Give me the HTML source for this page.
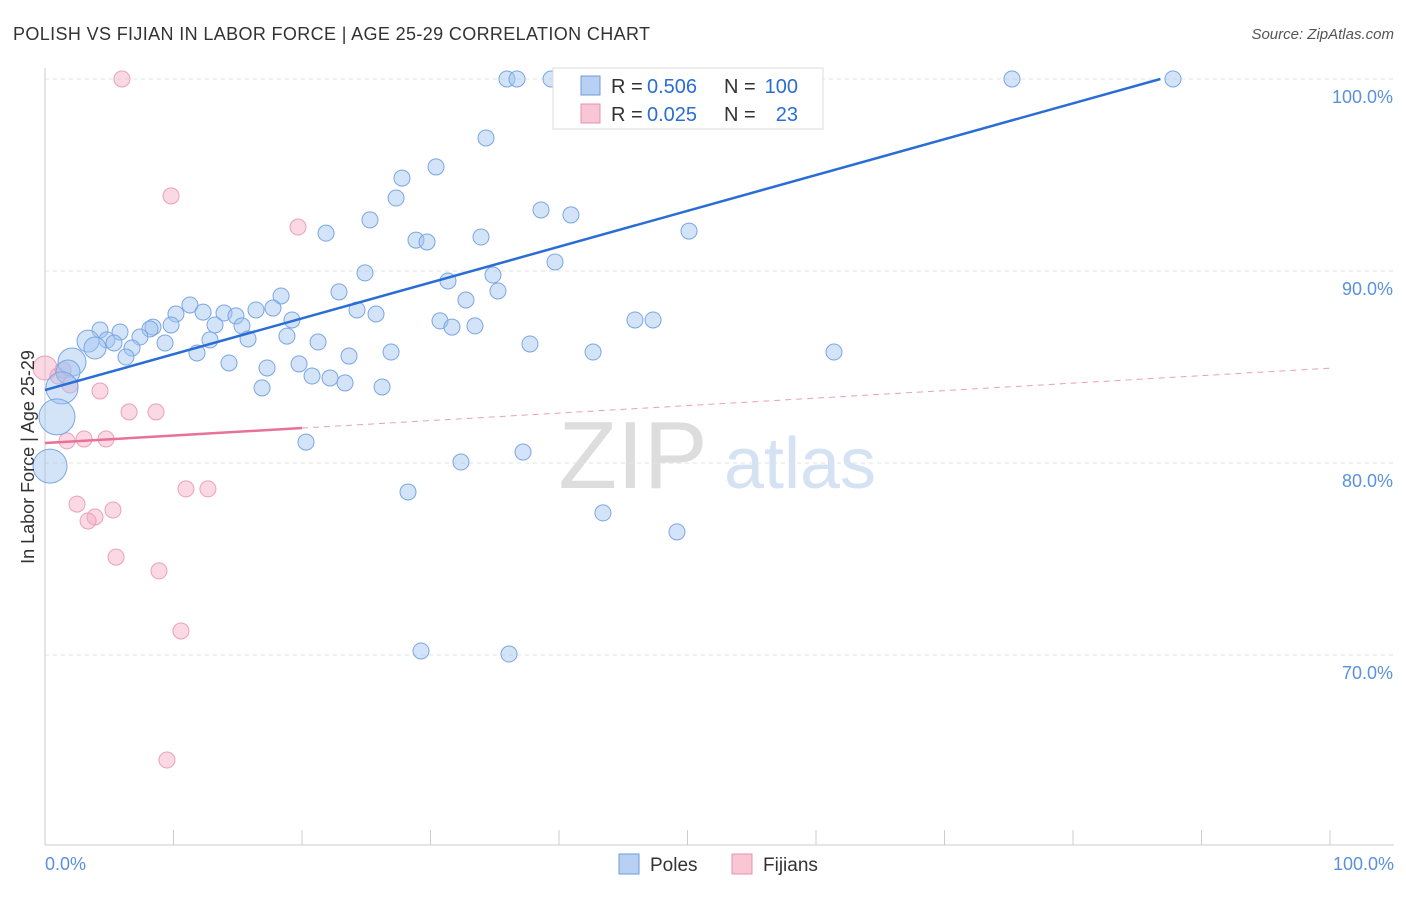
<!DOCTYPE html>
<html><head><meta charset="utf-8"><style>
body{margin:0;background:#fff;font-family:"Liberation Sans",sans-serif;}
svg text{font-family:"Liberation Sans",sans-serif;}
</style></head><body>
<svg id="chart" width="1406" height="892">
<text x="13" y="40" font-size="18" fill="#333" textLength="637">POLISH VS FIJIAN IN LABOR FORCE | AGE 25-29 CORRELATION CHART</text>
<text x="1394" y="39" font-size="15" fill="#555" font-style="italic" text-anchor="end">Source: ZipAtlas.com</text>
<g><text x="633" y="488" font-size="96" fill="#ddd" text-anchor="middle" font-family="Liberation Serif">ZIP</text><text x="800" y="488" font-size="72" fill="#d4e2f4" text-anchor="middle">atlas</text></g>
<g id="grid"></g><g id="axes"></g><g id="marks"></g>
<text transform="translate(34,457) rotate(-90)" font-size="18" fill="#333" text-anchor="middle">In Labor Force | Age 25-29</text>
<g>
<rect x="553" y="68" width="270" height="61" fill="#fff" stroke="#ddd"/>
<rect x="581" y="76" width="19" height="19" fill="#b8d0f4" stroke="#6c9be0"/>
<text x="611" y="93" font-size="20" fill="#333">R =</text>
<text x="647" y="93" font-size="20" fill="#2a6dd4">0.506</text>
<text x="724" y="93" font-size="20" fill="#333">N =</text>
<text x="798" y="93" font-size="20" fill="#2a6dd4" text-anchor="end">100</text>
<rect x="581" y="104" width="19" height="19" fill="#f8c6d4" stroke="#e891ad"/>
<text x="611" y="121" font-size="20" fill="#333">R =</text>
<text x="647" y="121" font-size="20" fill="#2a6dd4">0.025</text>
<text x="724" y="121" font-size="20" fill="#333">N =</text>
<text x="798" y="121" font-size="20" fill="#2a6dd4" text-anchor="end">23</text>
</g>
<g>
<rect x="619" y="854" width="20" height="20" fill="#b8d0f4" stroke="#6c9be0"/><text x="650" y="871" font-size="19" fill="#333">Poles</text>
<rect x="732" y="854" width="20" height="20" fill="#f8c6d4" stroke="#e891ad"/><text x="763" y="871" font-size="19" fill="#333">Fijians</text>
</g>
</svg>
<script>
const polesX=[35.95,36.73,39.38,42.1,43.89,46.07,47.86,51.44,55.41,75.25,87.78,34.32,30.43,27.78,27.32,25.29,21.87,28.87,29.73,33.93,38.6,40.93,50.12,39.69,24.9,31.36,34.86,35.25,32.76,22.88,18.37,11.28,10.19,12.3,13.93,14.86,16.42,17.74,19.22,24.28,25.76,30.74,31.67,33.46,45.91,47.32,4.28,5.84,8.4,9.81,13.23,15.33,8.17,7.39,4.82,3.35,5.37,3.89,6.77,9.34,12.84,15.8,18.83,21.25,37.74,42.65,61.4,26.93,23.66,11.83,6.3,14.32,17.28,19.77,20.78,22.18,23.35,26.23,16.89,2.1,1.79,1.32,0.93,0.39,20.31,32.37,37.2,28.25,43.42,49.18,29.26,36.11];
const polesY=[100,100,100,100,100,100,100,100,100,100,100,96.93,95.42,94.84,93.8,92.66,91.97,91.61,91.51,91.77,93.18,92.92,92.08,90.47,89.9,89.48,89.79,88.96,88.49,88.91,88.7,88.23,87.76,87.86,87.81,87.66,87.97,88.07,87.45,87.97,87.76,87.4,87.08,87.14,87.45,87.45,86.93,86.82,87.08,87.19,87.19,87.14,86.98,86.56,86.41,86.35,86.25,85.99,85.99,86.25,86.41,86.46,86.61,86.3,86.2,85.78,85.78,85.78,85.57,85.73,85.52,85.21,84.95,85.16,84.53,84.43,84.17,83.96,83.91,85.26,84.74,83.91,82.4,79.84,81.09,80.05,80.57,78.49,77.4,76.41,70.21,70.05];
const polesR=[8,8,8,8,8,8,8,8,8,8,8,8,8,8,8,8,8,8,8,8,8,8,8,8,8,8,8,8,8,8,8,8,8,8,8,8,8,8,8,8,8,8,8,8,8,8,8,8,8,8,8,8,8,8,8,11,8,11,8,8,8,8,8,8,8,8,8,8,8,8,8,8,8,8,8,8,8,8,8,14,12,16,18,17,8,8,8,8,8,8,8,8];
const fijX=[5.99,9.81,19.69,0,1.01,1.4,1.95,4.28,6.54,8.64,1.71,3.04,4.75,10.97,12.68,2.49,3.89,3.35,5.29,5.53,8.87,10.58,9.49];
const fijY=[100,93.91,92.29,84.95,84.53,84.84,84.06,83.75,82.66,82.66,81.15,81.25,81.25,78.65,78.65,77.86,77.19,76.98,77.55,75.1,74.38,71.25,64.53];
const yTicks=[100,90,80,70];
const yTickLabels=["100.0%","90.0%","80.0%","70.0%"];
const xLabels=["0.0%","100.0%"];
const blueTrend=[83.8,16.2/86.8];
const pinkTrend=[81.04,0.039];
const sx=v=>45+v*12.85, sy=v=>79+(100-v)*19.2;
const NS="http://www.w3.org/2000/svg";
function mk(p,t,a){const e=document.createElementNS(NS,t);for(const k in a)e.setAttribute(k,a[k]);p.appendChild(e);return e;}
const g=document.getElementById('grid'),ax=document.getElementById('axes'),m=document.getElementById('marks');
yTicks.forEach((t,i)=>{
 const l=mk(g,'line',{x1:45,x2:1394,y1:sy(t),y2:sy(t),stroke:'#e3e3e3','stroke-dasharray':'4,4'});
 
 
 const tx=mk(ax,'text',{x:1393,y:sy(t)+24,'font-size':18,fill:'#5a90dc','text-anchor':'end'});tx.textContent=yTickLabels[i];
 
 
});
const ya=mk(ax,'line',{x1:45,x2:45,y1:68,y2:845,stroke:'#ccc'});


const xa=mk(ax,'line',{x1:45,x2:1394,y1:845,y2:845,stroke:'#ccc'});


for(let i=0;i<=10;i++){const t=mk(ax,'line',{x1:sx(i*10),x2:sx(i*10),y1:830,y2:845,stroke:'#ccc'});
 
 }
[[0,'start',45],[100,'end',1394]].forEach((d,i)=>{const t=mk(ax,'text',{x:d[2],y:870,'font-size':18,fill:'#5a90dc','text-anchor':d[1]});t.textContent=xLabels[i];
 
 });
fijX.forEach((x,i)=>{const c=mk(m,'circle',{cx:sx(x),cy:sy(fijY[i]),r:i==3?12:8,fill:'rgba(244,170,196,0.45)',stroke:'#eba0ba','stroke-width':1});
 
 });
polesX.forEach((x,i)=>{const c=mk(m,'circle',{cx:sx(x),cy:sy(polesY[i]),r:polesR[i],fill:'rgba(160,195,240,0.45)',stroke:'#7aa6e4','stroke-width':1});
 
 });
const bl=mk(m,'line',{x1:sx(0),y1:sy(blueTrend[0]),x2:sx(86.8),y2:sy(blueTrend[0]+blueTrend[1]*86.8),stroke:'#2a6dd4','stroke-width':2.5});


const pl=mk(m,'line',{x1:sx(0),y1:sy(pinkTrend[0]),x2:sx(20),y2:sy(pinkTrend[0]+pinkTrend[1]*20),stroke:'#e8709a','stroke-width':2.5});


const pd=mk(m,'line',{x1:sx(20),y1:sy(pinkTrend[0]+pinkTrend[1]*20),x2:sx(100),y2:sy(pinkTrend[0]+pinkTrend[1]*100),stroke:'#e8a0b8','stroke-width':1,'stroke-dasharray':'6,5'});


</script>
</body></html>
